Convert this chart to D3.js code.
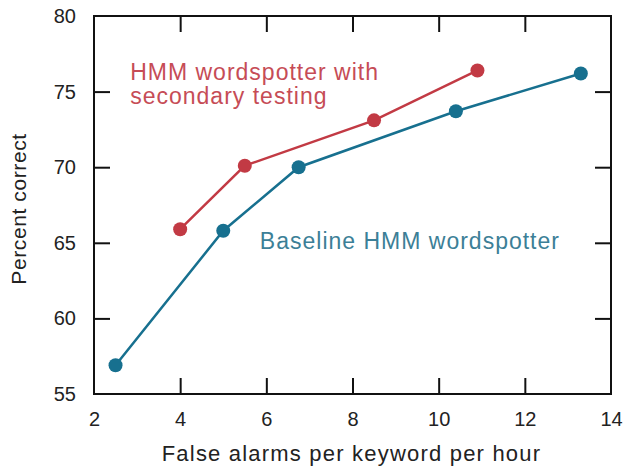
<!DOCTYPE html>
<html>
<head>
<meta charset="utf-8">
<script src="https://cdn.jsdelivr.net/npm/d3@7"></script>
<style>
  body { margin: 0; background: #fff; }
  text { font-family: "Liberation Sans", Arial, sans-serif; }
</style>
</head>
<body>
<div id="chart"></div>
<script>
// values
secondaryX = [4.0, 5.5, 8.5, 10.9]
secondaryY = [65.9, 70.1, 73.1, 76.4]
baselineX = [2.5, 5.0, 6.75, 10.4, 13.3]
baselineY = [56.9, 65.8, 70.0, 73.7, 76.2]
xTicks = [2, 4, 6, 8, 10, 12, 14]
yTicks = [55, 60, 65, 70, 75, 80]

chart = {
  "width": 624, "height": 469,
  "margin": {"top": 16, "right": 13, "bottom": 75, "left": 94},
  "red": "#c23a44", "blue": "#17708f",
  "redText": "#c64c56", "blueText": "#3c7f97",
  "tick": 16
}

w = chart.width - chart.margin.left - chart.margin.right
h = chart.height - chart.margin.top - chart.margin.bottom

x = d3.scaleLinear().domain([2, 14]).range([0, w])
y = d3.scaleLinear().domain([55, 80]).range([h, 0])

svg = d3.select("#chart").append("svg").attr("width", chart.width).attr("height", chart.height)
g = svg.append("g").attr("transform", "translate(" + chart.margin.left + "," + chart.margin.top + ")")

// inward ticks on all four sides, labels only left and bottom
inner = xTicks.slice(1, -1)
innerY = yTicks.slice(1, -1)

g.append("g").attr("transform", "translate(0," + h + ")")
  .call(d3.axisBottom(x).tickValues(xTicks).tickSize(-chart.tick).tickPadding(18).tickFormat(d3.format("d")))
  .call(a => a.select(".domain").remove())
  .call(a => a.selectAll(".tick").filter(d => inner.indexOf(d) < 0).select("line").remove())
g.append("g")
  .call(d3.axisTop(x).tickValues(inner).tickSize(-chart.tick).tickFormat(""))
  .call(a => a.select(".domain").remove())
g.append("g")
  .call(d3.axisLeft(y).tickValues(yTicks).tickSize(-chart.tick).tickPadding(18).tickFormat(d3.format("d")))
  .call(a => a.select(".domain").remove())
  .call(a => a.selectAll(".tick").filter(d => innerY.indexOf(d) < 0).select("line").remove())
g.append("g").attr("transform", "translate(" + w + ",0)")
  .call(d3.axisRight(y).tickValues(innerY).tickSize(-chart.tick).tickFormat(""))
  .call(a => a.select(".domain").remove())

g.selectAll(".tick line").attr("stroke", "#111").attr("stroke-width", 2)
g.selectAll(".tick text").attr("fill", "#222").style("font-size", "20px")
  .style("font-family", "'Liberation Sans Narrow', 'Liberation Sans', sans-serif")

g.append("rect").attr("width", w).attr("height", h)
  .attr("fill", "none").attr("stroke", "#111").attr("stroke-width", 2)

function drawSeries(xs, ys, color){
  pts = xs.map((d, i) => [d, ys[i]])
  line = d3.line().x(d => x(d[0])).y(d => y(d[1]))
  g.append("path").datum(pts).attr("d", line)
    .attr("fill", "none").attr("stroke", color).attr("stroke-width", 2.5)
  g.selectAll(null).data(pts).enter().append("circle")
    .attr("cx", d => x(d[0])).attr("cy", d => y(d[1])).attr("r", 7)
    .attr("fill", color)
}
drawSeries(baselineX, baselineY, chart.blue)
drawSeries(secondaryX, secondaryY, chart.red)

// series labels
lbl = g.append("text").attr("fill", chart.redText).style("font-size", "23px").style("letter-spacing", "1px")
lbl.append("tspan").attr("x", x(2.84)).attr("y", y(75.77)).text("HMM wordspotter with")
lbl.append("tspan").attr("x", x(2.84)).attr("y", y(74.18)).text("secondary testing")
g.append("text").attr("fill", chart.blueText).style("font-size", "23px").style("letter-spacing", "1px")
  .attr("x", x(5.85)).attr("y", y(64.59)).text("Baseline HMM wordspotter")

// axis titles
svg.append("text").attr("x", chart.margin.left + w / 2 - 1).attr("y", 461)
  .attr("text-anchor", "middle").attr("fill", "#222").style("font-size", "22px").style("letter-spacing", "1.2px")
  .text("False alarms per keyword per hour")
svg.append("text").attr("transform", "translate(26,209) rotate(-90)")
  .attr("text-anchor", "middle").attr("fill", "#222").style("font-size", "21px").style("letter-spacing", "0.6px")
  .text("Percent correct")
</script>
</body>
</html>
